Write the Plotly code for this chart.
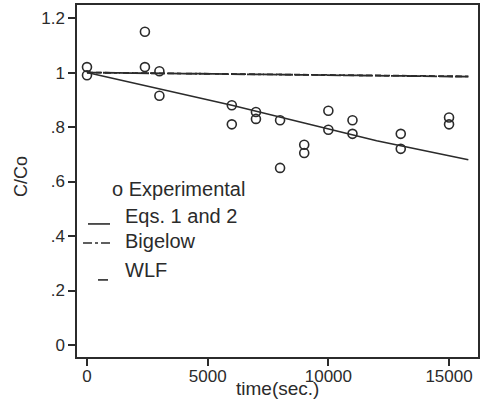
import plotly.graph_objects as go

# ---- data ----
exp_time = [0, 0, 2400, 2400, 3000, 3000, 6000, 6000, 7000, 7000, 8000, 8000,
            9000, 9000, 10000, 10000, 11000, 11000, 13000, 13000, 15000, 15000]
exp_c = [1.02, 0.99, 1.15, 1.02, 1.005, 0.915, 0.88, 0.81, 0.855, 0.83, 0.825, 0.65,
         0.735, 0.705, 0.86, 0.79, 0.825, 0.775, 0.775, 0.72, 0.835, 0.81]

eq_time = [0, 3000, 6000, 9000, 12000, 15000, 15800]
eq_c = [1.0, 0.94, 0.88, 0.815, 0.75, 0.695, 0.68]

big_time = [0, 15800]
big_c = [1.0, 0.985]

wlf_time = [0, 15800]
wlf_c = [1.0, 0.986]

x_ticks = [0, 5000, 10000, 15000]
x_ticktext = ["0", "5000", "10000", "15000"]
y_ticks = [0, 0.2, 0.4, 0.6, 0.8, 1.0, 1.2]
y_ticktext = ["0", ".2", ".4", ".6", ".8", "1", "1.2"]

INK = "#2b2b2b"
FONT = "Liberation Sans, Arial, sans-serif"

fig = go.Figure()
fig.add_trace(go.Scatter(x=eq_time, y=eq_c, mode="lines",
                         line=dict(color=INK, width=1.6), name="Eqs. 1 and 2"))
fig.add_trace(go.Scatter(x=big_time, y=big_c, mode="lines",
                         line=dict(color=INK, width=1.8, dash="14px,2px"), name="Bigelow"))
fig.add_trace(go.Scatter(x=wlf_time, y=wlf_c, mode="lines",
                         line=dict(color=INK, width=1.8, dash="6px,3px"), name="WLF"))
fig.add_trace(go.Scatter(x=exp_time, y=exp_c, mode="markers",
                         marker=dict(symbol="circle-open", size=9, color=INK,
                                     line=dict(width=1.6, color=INK)),
                         name="Experimental"))

fig.update_layout(
    width=480, height=400,
    margin=dict(l=77, r=2, t=5, b=43),
    paper_bgcolor="white", plot_bgcolor="white",
    showlegend=False,
    font=dict(family=FONT, color=INK, size=16),
)
fig.update_xaxes(range=[-414, 16200], tickvals=x_ticks, ticktext=x_ticktext,
                 ticks="outside", ticklen=7, tickwidth=1.5, tickcolor=INK,
                 showline=True, linecolor=INK, linewidth=1.5, mirror=True,
                 showgrid=False, zeroline=False, tickfont=dict(size=17),
                 ticklabelstandoff=-4, automargin=False)
fig.update_yaxes(range=[-0.044, 1.248], tickvals=y_ticks, ticktext=y_ticktext,
                 ticks="outside", ticklen=7, tickwidth=1.5, tickcolor=INK,
                 showline=True, linecolor=INK, linewidth=1.5, mirror=True,
                 showgrid=False, zeroline=False, tickfont=dict(size=17),
                 automargin=False)

# axis titles
fig.add_annotation(text="time(sec.)", xref="paper", yref="paper", x=0.5, y=-0.09,
                   xanchor="center", yanchor="middle", showarrow=False,
                   font=dict(size=19, family=FONT, color=INK))
fig.add_annotation(text="C/Co", xref="paper", yref="paper", x=-0.14, y=0.514,
                   xanchor="center", yanchor="middle", showarrow=False, textangle=-90,
                   font=dict(size=18, family=FONT, color=INK))

# legend (drawn manually)
leg_font = dict(size=20, family=FONT, color=INK)
fig.add_annotation(text="o Experimental", xref="paper", yref="paper", x=0.0823, y=0.477,
                   xanchor="left", yanchor="middle", showarrow=False, font=leg_font)
fig.add_annotation(text="Eqs. 1 and 2", xref="paper", yref="paper", x=0.1147, y=0.4006,
                   xanchor="left", yanchor="middle", showarrow=False, font=leg_font)
fig.add_annotation(text="Bigelow", xref="paper", yref="paper", x=0.1147, y=0.3295,
                   xanchor="left", yanchor="middle", showarrow=False, font=leg_font)
fig.add_annotation(text="WLF", xref="paper", yref="paper", x=0.1147, y=0.247,
                   xanchor="left", yanchor="middle", showarrow=False, font=leg_font)

fig.add_shape(type="line", xref="paper", yref="paper", x0=0.0274, x1=0.0823, y0=0.378, y1=0.378,
              line=dict(color=INK, width=1.6))
fig.add_shape(type="line", xref="paper", yref="paper", x0=0.015, x1=0.0823, y0=0.324, y1=0.324,
              line=dict(color=INK, width=1.6, dash="dashdot"))
fig.add_shape(type="line", xref="paper", yref="paper", x0=0.0524, x1=0.0773, y0=0.219, y1=0.219,
              line=dict(color=INK, width=1.6))

fig.write_html("out.html", config={"displayModeBar": False},
               post_script="document.body.style.margin='0';document.body.style.overflow='hidden';")
